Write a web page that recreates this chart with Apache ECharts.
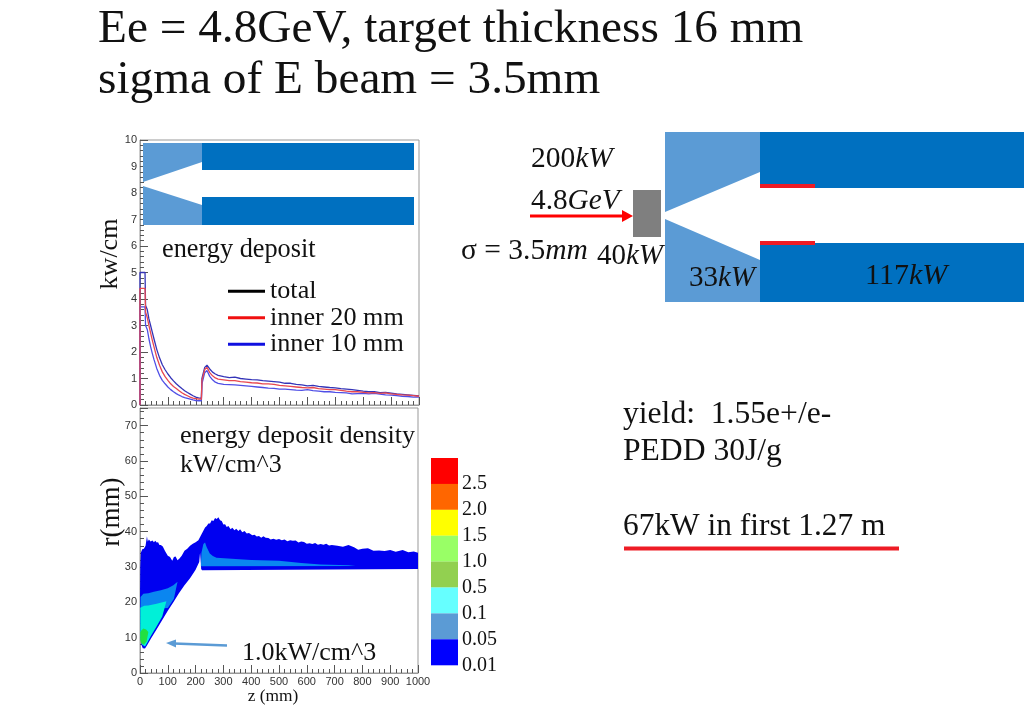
<!DOCTYPE html>
<html>
<head>
<meta charset="utf-8">
<title>Energy deposit</title>
<script src="https://cdn.jsdelivr.net/npm/echarts@6/dist/echarts.min.js"></script>
<style>
  html, body { margin: 0; padding: 0; background: #fff; }
  #main { width: 1024px; height: 709px; }
</style>
</head>
<body>
<div id="main"></div>
<script>
// top panel: z (mm) and kW/cm
var zBins = [0,0,18,20,26,32,38,44,50,
  60,70,80,90,100,110,120,130,140,150,160,170,180,190,200,210,
  220,222,232,240,250,260,270,280,
  300,320,340,360,380,400,420,440,460,480,500,520,540,560,580,600,620,640,660,680,700,720,740,760,780,800,820,840,860,880,900,920,940,960,980,1000];
var totalKw = [0,5.0,5.0,3.75,3.6,3.25,3.0,2.75,2.5,
  2.1,1.78,1.52,1.33,1.17,1.03,.91,.8,.71,.62,.54,.47,.41,.35,.3,.27,
  .25,1.0,1.42,1.5,1.36,1.24,1.17,1.12,
  1.07,1.03,1.05,1.0,.98,.96,.95,.92,.9,.88,.86,.82,.82,.78,.76,.72,.74,.7,.68,.66,.65,.62,.6,.58,.55,.52,.5,.5,.47,.48,.45,.42,.4,.38,.36,.34];
var inner20Kw = [0,4.4,4.4,3.5,3.3,3.0,2.72,2.45,2.2,
  1.8,1.5,1.25,1.07,.93,.8,.7,.62,.54,.46,.4,.35,.3,.26,.24,.22,
  .22,.92,1.34,1.42,1.22,1.1,1.02,.98,
  .95,.92,.92,.88,.86,.84,.83,.8,.8,.78,.74,.72,.7,.68,.66,.65,.66,.62,.6,.58,.58,.55,.52,.5,.5,.48,.46,.47,.44,.46,.42,.4,.38,.37,.35,.33];
var inner10Kw = [0,3.7,3.7,3.0,2.85,2.5,2.2,1.95,1.72,
  1.38,1.12,.93,.8,.68,.58,.5,.43,.37,.32,.28,.25,.22,.19,.17,.16,
  .16,.8,1.22,1.3,1.08,.95,.86,.82,
  .78,.77,.76,.74,.72,.7,.68,.66,.64,.63,.6,.6,.58,.56,.55,.58,.54,.52,.5,.5,.48,.47,.46,.42,.43,.44,.42,.44,.41,.38,.37,.35,.33,.32,.3,.3];

// bottom panel: contour outlines as [z, r] in mm
var contour001 = [[0,22],[1,30],[3,34],[8,35],[14,35.2],[20,36],[25,38.7],[28,37.2],[32,37.8],[38,37.2],[45,37.5],[50,37],[55,37.4],[60,36.9],[65,37],[70,36.2],[75,36.2],[82,35.8],[90,34.5],[100,33.2],[108,32.8],[116,31.8],[122,32.8],[128,33],[135,31.9],[142,32.4],[150,33.2],[160,34.6],[170,35.2],[180,36],[190,36.6],[200,37],[210,37.6],[218,38.8],[226,40],[234,41.2],[240,41.6],[246,42.3],[252,42.3],[258,43.2],[264,43],[270,43.9],[276,43.6],[282,44.1],[288,43.2],[294,43],[300,42],[306,42.1],[312,41.3],[318,41.6],[326,40.7],[332,41.1],[340,40.4],[346,40.8],[354,40.2],[360,40.7],[368,39.8],[376,40.2],[384,39.5],[392,39.6],[404,39],[412,39.1],[420,38.6],[428,38.8],[436,38.3],[444,38.7],[452,38.3],[462,38.2],[470,37.8],[480,38],[490,37.7],[500,37.9],[510,37.6],[520,37.8],[530,37.3],[540,37.6],[550,37.4],[560,37.5],[570,36.9],[580,37.2],[590,37.1],[600,36.6],[610,36.7],[620,36.5],[630,36.8],[640,36.3],[650,36.5],[660,36.3],[670,36.6],[680,36.1],[690,36.2],[710,36],[730,35.7],[750,36.2],[770,35.6],[785,34.9],[800,35.2],[820,35.3],[840,34.6],[860,34.7],[880,34.5],[900,34.8],[920,34.3],[945,34.8],[965,34.2],[985,34.4],[1000,34],
  [1000,29.4],[223,29.1],[220,29.4],[219,31],[216,34],[213,31.4],[200,29.2],[180,26.8],[160,24.8],[140,22.6],[120,20],[100,17.6],[80,15],[60,12.4],[40,9.8],[25,7.8],[18,6.9],[10,7],[5,8],[1,11]];
var contour005Cone = [[2,21.5],[12,22.4],[30,22.6],[50,23],[75,23.4],[100,24],[120,24.8],[135,25.8],[122,21],[100,18.4],[2,18]];
var contour005Tail = [[219,30.2],[221,34],[228,36.5],[234,36.9],[240,35.6],[251,33.8],[262,33.1],[275,32.6],[330,32.3],[400,32],[500,31.8],[580,31.1],[650,30.7],[750,30.5],[775,30.3]];
var contour01 = [[1,18.5],[15,19],[30,19.1],[60,19.6],[95,20.3],[80,16],[60,13.2],[40,10.6],[25,8.4],[18,7.5],[8,8],[1,10]];
var contour05 = [[1,11.5],[5,12],[12,12.6],[22,12.3],[30,11.6],[24,9],[14,8],[4,8.4],[1,9.4]];

// colour scale
var scaleLabels = ['2.5','2.0','1.5','1.0','0.5','0.1','0.05','0.01'];
var scaleColors = ['#ff0000','#ff6600','#ffff00','#99ff66','#92d050','#66ffff','#5b9bd5','#0000ff'];

var myChart = echarts.init(document.getElementById('main'));

function curve(values) {
  return values.map(function (v, i) { return [zBins[i], v]; });
}

function contourSeries(points, color, z) {
  return {
    type: 'custom',
    xAxisIndex: 1,
    yAxisIndex: 1,
    z: z,
    silent: true,
    clip: true,
    data: points,
    encode: { x: 0, y: 1 },
    renderItem: function (params, api) {
      if (params.dataIndex !== 0) return null;
      return {
        type: 'polygon',
        shape: { points: points.map(function (p) { return api.coord(p); }) },
        style: { fill: color }
      };
    }
  };
}

function label(x, y, text, size, extra) {
  var style = {
    x: x, y: y, text: text,
    font: size + 'px "Liberation Serif"',
    fill: '#111',
    textVerticalAlign: 'middle'
  };
  if (extra) for (var k in extra) style[k] = extra[k];
  return { type: 'text', z: 20, style: style };
}

// number + italic unit, like the equation objects on the slide
function unitLabel(x, y, num, unit, size) {
  var rich = {
    n: { fontFamily: 'Liberation Serif', fontSize: size, fill: '#111' },
    i: { fontFamily: 'Liberation Serif', fontSize: size, fontStyle: 'italic', fill: '#111' }
  };
  return {
    type: 'text', z: 20,
    style: { x: x, y: y, text: '{n|' + num + '}{i|' + unit + '}', rich: rich, textVerticalAlign: 'middle' }
  };
}

function poly(points, fill, z) {
  return { type: 'polygon', z: z || 10, shape: { points: points }, style: { fill: fill } };
}

var LIGHT = '#5b9bd5', DARK = '#0070c0';

var shapes = [
  // small sketch inside the top panel
  poly([[143,143],[202,143],[202,162],[143,182]], LIGHT),
  poly([[202,143],[414,143],[414,170],[202,170]], DARK),
  poly([[143,186],[202,205],[202,225],[143,225]], LIGHT),
  poly([[202,197],[414,197],[414,225],[202,225]], DARK),

  // big sketch top right
  poly([[665,132],[760,132],[760,172],[665,212]], LIGHT),
  poly([[760,132],[1024,132],[1024,188],[760,188]], DARK),
  poly([[665,219],[760,260],[760,302],[665,302]], LIGHT),
  poly([[760,243],[1024,243],[1024,302],[760,302]], DARK),
  { type: 'rect', z: 11, shape: { x: 760, y: 184, width: 55, height: 4 }, style: { fill: '#ee1c25' } },
  { type: 'rect', z: 11, shape: { x: 760, y: 241, width: 55, height: 4 }, style: { fill: '#ee1c25' } },
  { type: 'rect', z: 11, shape: { x: 633, y: 190, width: 28, height: 47 }, style: { fill: '#7f7f7f' } },
  { type: 'line', z: 11, shape: { x1: 530, y1: 216, x2: 622, y2: 216 }, style: { stroke: '#ff0000', lineWidth: 3 } },
  poly([[622,210],[633,216],[622,222]], '#ff0000', 11),

  // arrow to the 1.0 kW/cm^3 region
  { type: 'line', z: 11, shape: { x1: 227, y1: 645.5, x2: 174, y2: 643.5 }, style: { stroke: LIGHT, lineWidth: 2.5 } },
  poly([[176,639.5],[166,643],[176,647.5]], LIGHT, 11),

  { type: 'rect', z: 11, shape: { x: 624, y: 546.5, width: 275, height: 4 }, style: { fill: '#ee1c25' } },

  unitLabel(531, 159, '200', 'kW', 29.5),
  unitLabel(531, 201, '4.8', 'GeV', 29.3),
  unitLabel(461, 251, '\u03c3 = 3.5', 'mm', 29.5),
  unitLabel(597, 256, '40', 'kW', 29),
  unitLabel(689, 278, '33', 'kW', 29),
  unitLabel(865, 276, '117', 'kW', 30),

  label(162, 250, 'energy deposit', 26.3),
  label(180, 436, 'energy deposit density', 26.2),
  label(180, 465, 'kW/cm^3', 26),
  label(242, 653, '1.0kW/cm^3', 26),
  label(623, 415, 'yield:  1.55e+/e-', 31.6),
  label(623, 452, 'PEDD 30J/g', 31.6),
  label(623, 527, '67kW in first 1.27 m', 31.4),
  label(273, 696, 'z (mm)', 17.4, { textAlign: 'center' }),
  { type: 'text', z: 20, rotation: Math.PI / 2, x: 110, y: 254,
    style: { text: 'kw/cm', font: '26px "Liberation Serif"', fill: '#111', textAlign: 'center', textVerticalAlign: 'middle' } },
  { type: 'text', z: 20, rotation: Math.PI / 2, x: 112, y: 512,
    style: { text: 'r(mm)', font: '27px "Liberation Serif"', fill: '#111', textAlign: 'center', textVerticalAlign: 'middle' } }
];

// colour scale boxes and labels
scaleLabels.forEach(function (t, i) {
  shapes.push({ type: 'rect', z: 11, shape: { x: 431, y: 458 + i * 25.9, width: 27, height: 26 }, style: { fill: scaleColors[i] } });
  shapes.push(label(462, 484 + i * 25.9, t, 20));
});

function axisCommon() {
  return {
    axisLine: { lineStyle: { color: '#999' } },
    axisTick: { inside: true, length: 8, lineStyle: { color: '#555' } },
    minorTick: { show: true, splitNumber: 5, length: 4, lineStyle: { color: '#555' } },
    splitLine: { show: false },
    axisLabel: {
      fontFamily: 'Liberation Sans', fontSize: 11, color: '#333', margin: 3,
      formatter: function (v) { return String(v); }
    }
  };
}

var option = {
  animation: false,
  title: {
    text: 'Ee = 4.8GeV, target thickness 16 mm\nsigma of E beam = 3.5mm',
    left: 98, top: 4, padding: 0,
    textStyle: { fontFamily: 'Liberation Serif', fontSize: 47.3, fontWeight: 'normal', color: '#111', lineHeight: 51 }
  },
  legend: {
    orient: 'vertical', left: 228, top: 278, padding: 0, itemGap: 0,
    icon: 'rect', itemWidth: 37, itemHeight: 3,
    textStyle: { fontFamily: 'Liberation Serif', fontSize: 26.2, color: '#111', lineHeight: 22.5, padding: [4, 0, 0, 0] },
    data: [
      { name: 'total', itemStyle: { color: '#000' } },
      { name: 'inner 20 mm', itemStyle: { color: '#f01010' } },
      { name: 'inner 10 mm', itemStyle: { color: '#1010e0' } }
    ]
  },
  grid: [
    { left: 140, top: 140, width: 279, height: 265, show: true, borderColor: '#999', backgroundColor: '#fff' },
    { left: 140, top: 408, width: 278, height: 265, show: true, borderColor: '#999', backgroundColor: '#fff' }
  ],
  xAxis: [
    Object.assign(axisCommon(), { type: 'value', gridIndex: 0, min: 0, max: 1000, interval: 100, axisLabel: { show: false } }),
    Object.assign(axisCommon(), { type: 'value', gridIndex: 1, min: 0, max: 1000, interval: 100 })
  ],
  yAxis: [
    Object.assign(axisCommon(), { type: 'value', gridIndex: 0, min: 0, max: 10, interval: 1 }),
    (function () {
      var a = Object.assign(axisCommon(), { type: 'value', gridIndex: 1, min: 0, max: 75, interval: 10 });
      a.axisLabel.showMaxLabel = false;
      return a;
    })()
  ],
  series: [
    { name: 'total', type: 'line', showSymbol: false, data: curve(totalKw), z: 3,
      lineStyle: { color: '#3434b8', width: 1.3 } },
    { name: 'inner 20 mm', type: 'line', showSymbol: false, data: curve(inner20Kw), z: 4,
      lineStyle: { color: '#e8474f', width: 1.3 } },
    { name: 'inner 10 mm', type: 'line', showSymbol: false, data: curve(inner10Kw), z: 3,
      lineStyle: { color: '#4f4fe6', width: 1.3 } },
    contourSeries(contour001, '#0000f0', 3),
    contourSeries(contour005Cone, '#0a86f0', 4),
    contourSeries(contour005Tail, '#0a86f0', 4),
    contourSeries(contour01, '#00f0d8', 5),
    contourSeries(contour05, '#22e040', 6)
  ],
  graphic: shapes
};

myChart.setOption(option);
</script>
</body>
</html>
